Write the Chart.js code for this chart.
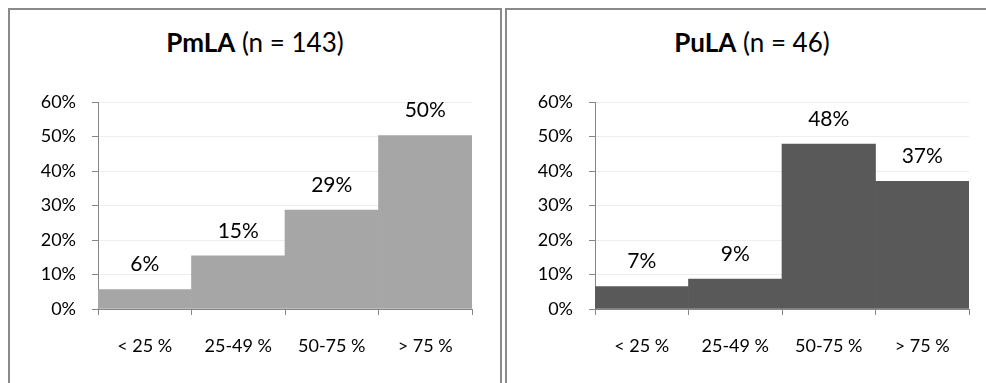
<!DOCTYPE html>
<html>
<head>
<meta charset="utf-8">
<script src="https://cdn.jsdelivr.net/npm/chart.js@4/dist/chart.umd.min.js"></script>
<style>
  html, body { margin: 0; padding: 0; background: #fff; }
  body { width: 986px; height: 383px; overflow: hidden; position: relative; font-family: Lato, sans-serif; }
  .panel { position: absolute; top: 8px; width: 490px; height: 420px; border: 2px solid #8a8a8a; background: #fff; }
  #panelA { left: 8px; }
  #panelB { left: 505px; }
  .title { position: absolute; left: 0; width: 490px; top: 16px; text-align: center; font-size: 26px; line-height: 32px; color: #000; white-space: nowrap; }
  .title b { font-weight: 700; }
  .panel canvas { position: absolute; left: 0; top: 0; }
</style>
</head>
<body>
<div class="panel" id="panelA">
  <div class="title"><b>PmLA</b> (n = 143)</div>
  <canvas id="chartA" width="490" height="373"></canvas>
</div>
<div class="panel" id="panelB">
  <div class="title"><b>PuLA</b> (n = 46)</div>
  <canvas id="chartB" width="490" height="373"></canvas>
</div>
<script>
// Share of cases per category, in percent
const categories = ['< 25 %', '25-49 %', '50-75 %', '> 75 %'];
const pmlaValues = [5.6, 15.4, 28.7, 50.3];
const pulaValues = [6.5, 8.7, 47.8, 37.0];
const yTicks = [0, 10, 20, 30, 40, 50, 60];

const FONT = 'Lato, sans-serif';
const AXIS_GRAY = '#868686';

// Percentage label above each bar
const valueLabels = {
  id: 'valueLabels',
  afterDatasetsDraw(chart) {
    const ctx = chart.ctx;
    ctx.save();
    ctx.font = '21px ' + FONT;
    ctx.fillStyle = '#000';
    ctx.textAlign = 'center';
    ctx.textBaseline = 'middle';
    chart.data.datasets.forEach((ds, i) => {
      chart.getDatasetMeta(i).data.forEach((bar, j) => {
        ctx.fillText(Math.round(ds.data[j]) + '%', bar.x, bar.y - 25);
      });
    });
    ctx.restore();
  }
};

function makeChart(id, values, color) {
  return new Chart(document.getElementById(id), {
    type: 'bar',
    data: {
      labels: categories,
      datasets: [{
        data: values,
        backgroundColor: color,
        borderWidth: 0,
        barPercentage: 1,
        categoryPercentage: 1
      }]
    },
    options: {
      responsive: false,
      animation: false,
      events: [],
      layout: { padding: { top: 92, right: 28, left: 0, bottom: 0 } },
      plugins: { legend: { display: false }, tooltip: { enabled: false }, title: { display: false } },
      scales: {
        x: {
          grid: { drawOnChartArea: false, offset: true, tickLength: 6, tickColor: AXIS_GRAY },
          border: { color: AXIS_GRAY, width: 1 },
          ticks: { color: '#000', font: { family: FONT, size: 18 }, padding: 20, maxRotation: 0 },
          afterFit(scale) { scale.height = 74; }
        },
        y: {
          min: 0,
          max: 60,
          afterBuildTicks(scale) { scale.ticks = yTicks.map(v => ({ value: v })); },
          grid: { color: '#eeeeee', tickLength: 6, tickColor: AXIS_GRAY },
          border: { color: AXIS_GRAY, width: 1 },
          ticks: { color: '#000', font: { family: FONT, size: 18 }, padding: 16, callback: v => v + '%' },
          afterFit(scale) { scale.width = 88; }
        }
      }
    },
    plugins: [valueLabels]
  });
}

makeChart('chartA', pmlaValues, '#a6a6a6');
makeChart('chartB', pulaValues, '#595959');
</script>
</body>
</html>
